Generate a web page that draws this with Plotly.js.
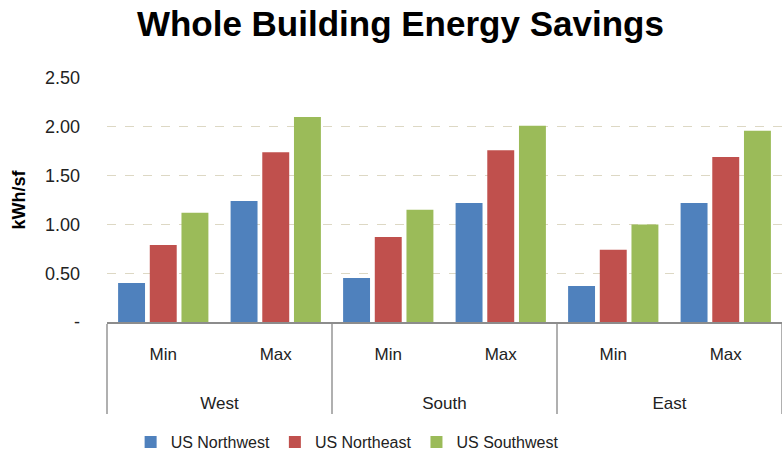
<!DOCTYPE html>
<html>
<head>
<meta charset="utf-8">
<script src="https://cdn.plot.ly/plotly-3.0.1.min.js"></script>
<style>html,body{margin:0;padding:0;background:#fff;}#chart{width:782px;height:459px;}</style>
</head>
<body>
<div id="chart"></div>
<script>
const regions = ["West", "West", "South", "South", "East", "East"];
const levels = ["Min", "Max", "Min", "Max", "Min", "Max"];
const seriesNames = ["US Northwest", "US Northeast", "US Southwest"];
const usNorthwest = [0.40, 1.24, 0.45, 1.22, 0.37, 1.22];
const usNortheast = [0.79, 1.74, 0.87, 1.76, 0.74, 1.69];
const usSouthwest = [1.12, 2.10, 1.15, 2.01, 1.00, 1.96];
const tickVals = [0, 0.5, 1, 1.5, 2, 2.5];
const tickText = ["-", "0.50", "1.00", "1.50", "2.00", "2.50"];
const colors = ["#4f81bd", "#c0504d", "#9bbb59"];

const font = "Liberation Sans, Arial, sans-serif";
const values = [usNorthwest, usNortheast, usSouthwest];
// extra blank lines under the inner labels to space the two label rows apart
const levelLabels = levels.map(l => l + "<br> <br> ");
const traces = values.map((v, i) => ({
  type: "bar",
  name: seriesNames[i],
  x: [regions, levelLabels],
  y: v,
  marker: {color: colors[i]},
  hoverinfo: "y"
}));

const layout = {
  width: 782, height: 459,
  margin: {l: 107, r: 0, t: 78, b: 136},
  paper_bgcolor: "#fff", plot_bgcolor: "#fff",
  title: {text: "<b>Whole Building Energy Savings</b>", x: 0.512, xref: "container", xanchor: "center", y: 0.975, yref: "container",
          font: {family: font, size: 35, color: "#000"}},
  barmode: "group",
  bargap: 0.155,
  bargroupgap: 0.15,
  font: {family: font, size: 17, color: "#222"},
  xaxis: {
    type: "multicategory",
    showline: true, linecolor: "#8c8c8c", linewidth: 1.5,
    showdividers: true, dividercolor: "#b0b0b0", dividerwidth: 1.5,
    tickfont: {family: font, size: 17, color: "#222"},
    ticks: "", showgrid: false, ticklabelstandoff: 16
  },
  yaxis: {
    range: [0, 2.5],
    tickvals: tickVals, ticktext: tickText,
    showgrid: true, gridcolor: "#ddd8c4", griddash: "dash", gridwidth: 1,
    zeroline: false, showline: false,
    ticks: "", ticklabelstandoff: 26,
    tickfont: {family: font, size: 18, color: "#222"},
    title: {text: "<b>kWh/sf</b>", font: {family: font, size: 18, color: "#000"}, standoff: 14}
  },
  legend: {orientation: "h", x: 0.035, xanchor: "left", y: -0.49, yanchor: "middle",
           font: {family: font, size: 16, color: "#222"}, itemwidth: 30, traceorder: "normal"},
  showlegend: true
};

Plotly.newPlot("chart", traces, layout, {displayModeBar: false, staticPlot: true});
</script>
</body>
</html>
